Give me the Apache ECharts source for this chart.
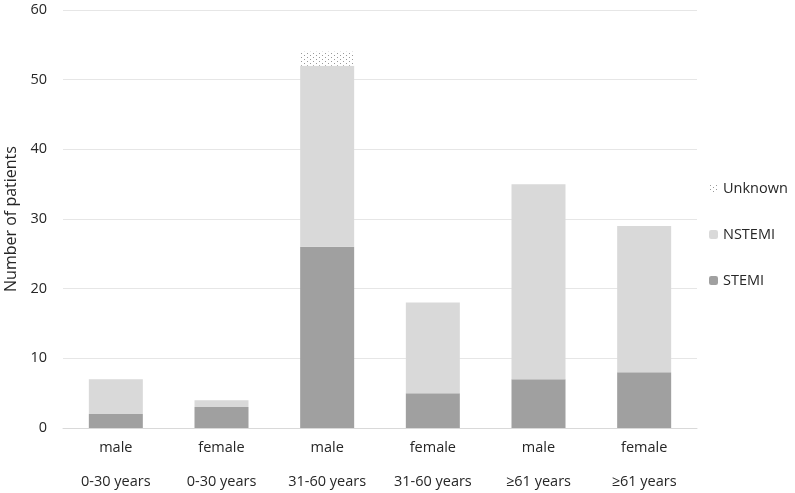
<!DOCTYPE html>
<html><head><meta charset="utf-8">
<script src="https://cdn.jsdelivr.net/npm/echarts@6/dist/echarts.min.js"></script>
<style>html,body{margin:0;padding:0;background:#fff}#c{width:795px;height:493px}</style>
</head><body><div id="c"></div>
<script>
const sexes = ['male','female','male','female','male','female'];
const ageGroups = ['0-30 years','0-30 years','31-60 years','31-60 years','≥61 years','≥61 years'];
const stemi = [2,3,26,5,7,8];
const nstemi = [5,1,26,13,28,21];
const unknown = [0,0,2,0,0,0];
const yTicks = {min:0, max:60, interval:10};

const categories = sexes.map((s,i)=>s+'\n'+ageGroups[i]);

const pc = document.createElement('canvas');
pc.width = 6; pc.height = 4;
const px = pc.getContext('2d');
px.fillStyle = '#ffffff'; px.fillRect(0,0,6,4);
px.fillStyle = '#9a9a9a';
px.fillRect(1,1,1,1); px.fillRect(4,3,1,1);
const dots = {image: pc, repeat: 'repeat'};

const font = 'Open Sans';
const chart = echarts.init(document.getElementById('c'), null, {renderer:'canvas'});
chart.setOption({
  animation:false,
  textStyle:{fontFamily:font},
  grid:{left:63, right:98, top:10, bottom:65, outerBoundsMode:'none', containLabel:false},
  legend:{
    orient:'vertical', left:704, top:176, itemWidth:9, itemHeight:9, itemGap:31,
    data:['Unknown','NSTEMI','STEMI'],
    textStyle:{fontFamily:font, fontSize:14.5, color:'#262626'}
  },
  xAxis:{
    type:'category', data:categories,
    axisLine:{lineStyle:{color:'#d9d9d9'}},
    axisTick:{show:false},
    axisLabel:{fontFamily:font, fontSize:14.5, color:'#262626', lineHeight:34, margin:3, interval:0}
  },
  yAxis:{
    type:'value', min:yTicks.min, max:yTicks.max, interval:yTicks.interval,
    name:'Number of patients', nameLocation:'middle', nameGap:41,
    nameTextStyle:{fontFamily:font, fontSize:16, color:'#262626'},
    axisLine:{show:false}, axisTick:{show:false},
    axisLabel:{fontFamily:font, fontSize:14.5, color:'#262626', margin:16},
    splitLine:{lineStyle:{color:'#e6e6e6'}}
  },
  series:[
    {name:'STEMI', type:'bar', stack:'t', data:stemi, barWidth:54, itemStyle:{color:'#a0a0a0'}},
    {name:'NSTEMI', type:'bar', stack:'t', data:nstemi, barWidth:54, itemStyle:{color:'#d9d9d9'}},
    {name:'Unknown', type:'bar', stack:'t', data:unknown, barWidth:54, itemStyle:{color:dots}}
  ]
});
</script></body></html>
